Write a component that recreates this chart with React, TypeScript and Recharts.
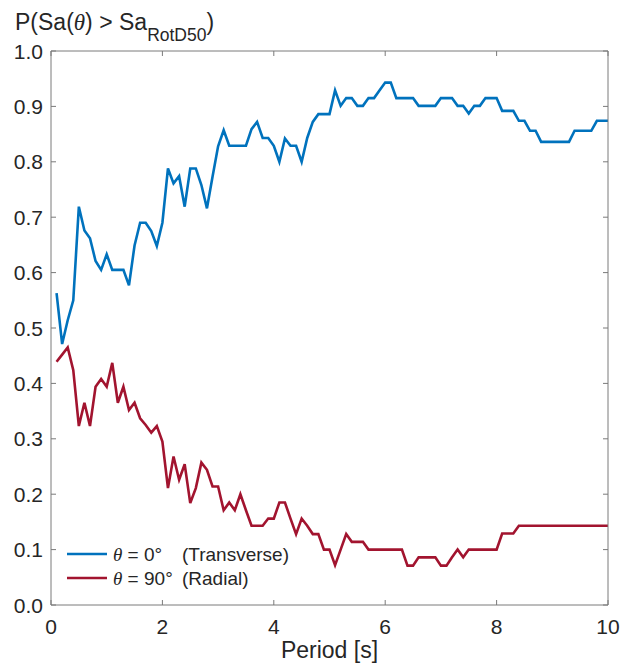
import React from 'react';
import { LineChart, Line, XAxis, YAxis, Legend } from 'recharts';

// periods [s]
const periods = [
  0.1, 0.2, 0.3, 0.4, 0.5, 0.6, 0.7, 0.8, 0.9, 1.0,
  1.1, 1.2, 1.3, 1.4, 1.5, 1.6, 1.7, 1.8, 1.9, 2.0,
  2.1, 2.2, 2.3, 2.4, 2.5, 2.6, 2.7, 2.8, 2.9, 3.0,
  3.1, 3.2, 3.3, 3.4, 3.5, 3.6, 3.7, 3.8, 3.9, 4.0,
  4.1, 4.2, 4.3, 4.4, 4.5, 4.6, 4.7, 4.8, 4.9, 5.0,
  5.1, 5.2, 5.3, 5.4, 5.5, 5.6, 5.7, 5.8, 5.9, 6.0,
  6.1, 6.2, 6.3, 6.4, 6.5, 6.6, 6.7, 6.8, 6.9, 7.0,
  7.1, 7.2, 7.3, 7.4, 7.5, 7.6, 7.7, 7.8, 7.9, 8.0,
  8.1, 8.2, 8.3, 8.4, 8.5, 8.6, 8.7, 8.8, 8.9, 9.0,
  9.1, 9.2, 9.3, 9.4, 9.5, 9.6, 9.7, 9.8, 9.9, 10.0,
];

// P(Sa(theta) > Sa_RotD50), theta = 0 deg
const transverse = [
  0.563, 0.471, 0.514, 0.55, 0.719, 0.676, 0.662, 0.621, 0.605, 0.633,
  0.605, 0.605, 0.605, 0.577, 0.649, 0.69, 0.69, 0.675, 0.648, 0.69,
  0.788, 0.761, 0.774, 0.719, 0.788, 0.788, 0.758, 0.716, 0.773, 0.828,
  0.857, 0.829, 0.829, 0.829, 0.829, 0.859, 0.872, 0.843, 0.843, 0.829,
  0.8, 0.842, 0.829, 0.829, 0.8, 0.843, 0.872, 0.886, 0.886, 0.886,
  0.929, 0.901, 0.915, 0.915, 0.901, 0.901, 0.915, 0.915, 0.929, 0.943,
  0.943, 0.915, 0.915, 0.915, 0.915, 0.901, 0.901, 0.901, 0.901, 0.915,
  0.915, 0.915, 0.901, 0.901, 0.887, 0.901, 0.901, 0.915, 0.915, 0.915,
  0.892, 0.892, 0.892, 0.874, 0.874, 0.856, 0.856, 0.836, 0.836, 0.836,
  0.836, 0.836, 0.836, 0.856, 0.856, 0.856, 0.856, 0.874, 0.874, 0.874,
];

// theta = 90 deg
const radial = [
  0.439, 0.452, 0.465, 0.424, 0.323, 0.365, 0.323, 0.394, 0.408, 0.394,
  0.437, 0.365, 0.394, 0.352, 0.365, 0.337, 0.325, 0.311, 0.323, 0.295,
  0.211, 0.268, 0.226, 0.254, 0.184, 0.211, 0.257, 0.244, 0.214, 0.214,
  0.171, 0.185, 0.171, 0.2, 0.171, 0.143, 0.143, 0.143, 0.156, 0.156,
  0.185, 0.185, 0.156, 0.128, 0.156, 0.143, 0.128, 0.128, 0.1, 0.1,
  0.072, 0.1, 0.128, 0.114, 0.114, 0.114, 0.1, 0.1, 0.1, 0.1,
  0.1, 0.1, 0.1, 0.071, 0.071, 0.086, 0.086, 0.086, 0.086, 0.071,
  0.071, 0.086, 0.1, 0.086, 0.1, 0.1, 0.1, 0.1, 0.1, 0.1,
  0.129, 0.129, 0.129, 0.143, 0.143, 0.143, 0.143, 0.143, 0.143, 0.143,
  0.143, 0.143, 0.143, 0.143, 0.143, 0.143, 0.143, 0.143, 0.143, 0.143,
];

const xTicks = [0, 2, 4, 6, 8, 10];
const yTicks = [0, 0.1, 0.2, 0.3, 0.4, 0.5, 0.6, 0.7, 0.8, 0.9, 1.0];

const seriesAngles = ['0°', '90°'];
const seriesNotes = ['(Transverse)', '(Radial)'];

const data = periods.map((p, i) => ({
  period: p,
  transverse: transverse[i],
  radial: radial[i],
}));

const AXIS = '#7a7a7a';
const TEXT = '#262626';
const FONT = '"Liberation Sans", Arial, Helvetica, sans-serif';
const SERIF = '"Liberation Serif", "Times New Roman", serif';
const TICK_LEN = 5;
const BLUE = '#0072BD';
const RED = '#A2142F';
const seriesColors = [BLUE, RED];

// ticks point into the plot box, matlab style
function BottomTick({ x, y, payload }: any) {
  return (
    <g>
      <line x1={x} y1={y} x2={x} y2={y - TICK_LEN} stroke={AXIS} />
      <text x={x} y={y + 29} textAnchor="middle" fontSize={21} fontFamily={FONT} fill={TEXT}>
        {payload.value}
      </text>
    </g>
  );
}

function LeftTick({ x, y, payload }: any) {
  return (
    <g>
      <line x1={x} y1={y} x2={x + TICK_LEN} y2={y} stroke={AXIS} />
      <text x={x - 8} y={y + 7.5} textAnchor="end" fontSize={21} fontFamily={FONT} fill={TEXT}>
        {Number(payload.value).toFixed(1)}
      </text>
    </g>
  );
}

function TopTick({ x, y }: any) {
  return <line x1={x} y1={y} x2={x} y2={y + TICK_LEN} stroke={AXIS} />;
}

function RightTick({ x, y }: any) {
  return <line x1={x} y1={y} x2={x - TICK_LEN} y2={y} stroke={AXIS} />;
}

function LegendBox() {
  return (
    <svg width={260} height={56} style={{ display: 'block' }}>
      {seriesAngles.map((angle, i) => (
        <g key={i}>
          <line x1={7} x2={47} y1={14 + i * 24} y2={14 + i * 24} stroke={seriesColors[i]} strokeWidth={2.5} />
          <text x={53} y={21 + i * 24} fontSize={19} fontFamily={FONT} fill={TEXT}>
            <tspan fontFamily={SERIF} fontStyle="italic">θ</tspan>
            {' = ' + angle}
          </text>
          <text x={122} y={21 + i * 24} fontSize={19} fontFamily={FONT} fill={TEXT}>
            {seriesNotes[i]}
          </text>
        </g>
      ))}
    </svg>
  );
}

export default function App() {
  return (
    <div style={{ position: 'absolute', left: 0, top: 0, width: 623, height: 672, background: '#fff' }}>
      <LineChart
        width={623}
        height={672}
        data={data}
        margin={{ top: 50, right: 14, bottom: 66, left: 50 }}
      >
        <XAxis
          xAxisId="x"
          dataKey="period"
          type="number"
          domain={[0, 10]}
          allowDataOverflow
          ticks={xTicks}
          interval={0}
          height={1}
          tickSize={0}
          tickMargin={0}
          tickLine={false}
          axisLine={{ stroke: AXIS }}
          tick={<BottomTick />}
        />
        <XAxis
          xAxisId="top"
          orientation="top"
          dataKey="period"
          type="number"
          domain={[0, 10]}
          allowDataOverflow
          ticks={xTicks}
          interval={0}
          height={1}
          tickSize={0}
          tickMargin={0}
          tickLine={false}
          axisLine={{ stroke: AXIS }}
          tick={<TopTick />}
        />
        <YAxis
          yAxisId="y"
          type="number"
          domain={[0, 1]}
          allowDataOverflow
          ticks={yTicks}
          interval={0}
          width={1}
          tickSize={0}
          tickMargin={0}
          tickLine={false}
          axisLine={{ stroke: AXIS }}
          tick={<LeftTick />}
        />
        <YAxis
          yAxisId="right"
          orientation="right"
          type="number"
          domain={[0, 1]}
          allowDataOverflow
          ticks={yTicks}
          interval={0}
          width={1}
          tickSize={0}
          tickMargin={0}
          tickLine={false}
          axisLine={{ stroke: AXIS }}
          tick={<RightTick />}
        />
        <Line
          xAxisId="x"
          yAxisId="y"
          type="linear"
          dataKey="transverse"
          stroke={BLUE}
          strokeWidth={2.6}
          dot={false}
          isAnimationActive={false}
        />
        <Line
          xAxisId="x"
          yAxisId="y"
          type="linear"
          dataKey="radial"
          stroke={RED}
          strokeWidth={2.6}
          dot={false}
          isAnimationActive={false}
        />
        <Legend
          layout="vertical"
          align="center"
          verticalAlign="middle"
          content={<LegendBox />}
          wrapperStyle={{ left: 60, top: 540, width: 260, height: 56 }}
        />
      </LineChart>
      <svg
        width={623}
        height={672}
        style={{ position: 'absolute', left: 0, top: 0, pointerEvents: 'none' }}
      >
        <text x={15} y={30} fontSize={23} fontFamily={FONT} fill={TEXT}>
          P(Sa(
          <tspan fontFamily={SERIF} fontStyle="italic">θ</tspan>
          ) &gt; Sa
          <tspan fontSize={17.5} dy={10.5}>RotD50</tspan>
          <tspan dy={-10.5}>)</tspan>
        </text>
        <text x={329.5} y={658} textAnchor="middle" fontSize={23} fontFamily={FONT} fill={TEXT}>
          Period [s]
        </text>
      </svg>
    </div>
  );
}
